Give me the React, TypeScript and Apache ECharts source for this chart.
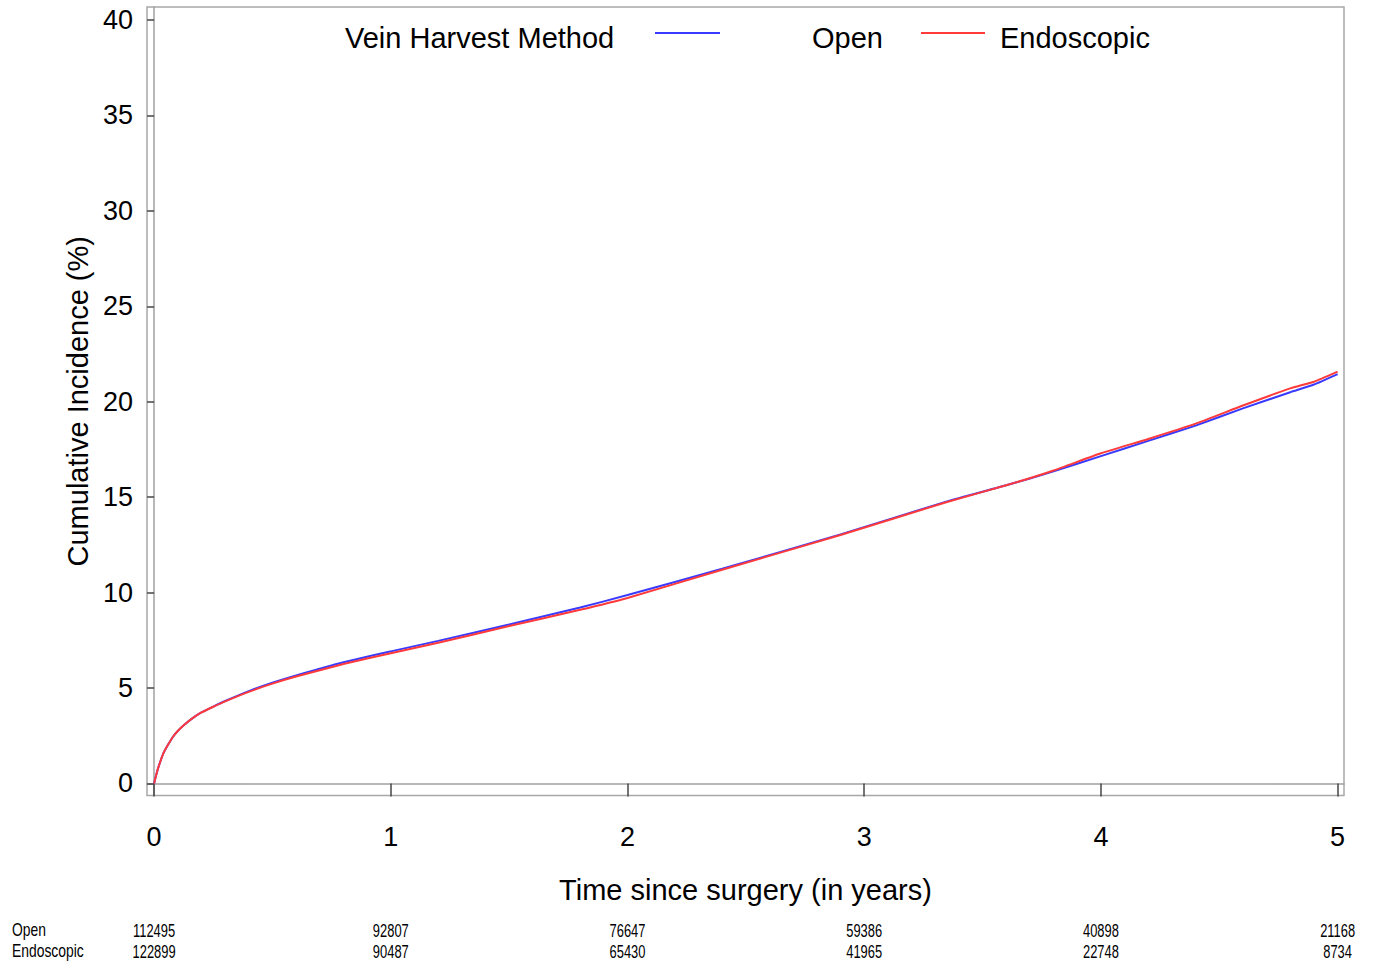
import React, { useEffect, useRef } from "react";
import * as echarts from "echarts";

const times = [0, 0.01, 0.02, 0.04, 0.06, 0.08, 0.1, 0.13, 0.16, 0.2, 0.25, 0.3, 0.4, 0.5, 0.6, 0.8, 1.0, 1.2, 1.5, 1.8, 2.0, 2.4, 2.9, 3.35, 3.6, 3.8, 4.0, 4.2, 4.4, 4.6, 4.8, 4.9, 5.0];
const openValues = [0, 0.5, 0.92, 1.6, 2.05, 2.45, 2.75, 3.1, 3.4, 3.72, 4.03, 4.32, 4.84, 5.28, 5.66, 6.35, 6.92, 7.47, 8.33, 9.22, 9.87, 11.25, 13.05, 14.78, 15.62, 16.35, 17.15, 17.95, 18.75, 19.65, 20.5, 20.9, 21.45];
const endoValues = [0, 0.5, 0.92, 1.6, 2.05, 2.45, 2.75, 3.1, 3.4, 3.72, 4.02, 4.3, 4.8, 5.23, 5.6, 6.26, 6.82, 7.37, 8.25, 9.1, 9.72, 11.2, 13.02, 14.75, 15.62, 16.4, 17.3, 18.05, 18.85, 19.8, 20.7, 21.05, 21.58];

const xTicks = [0, 1, 2, 3, 4, 5];
const yTicks = [0, 5, 10, 15, 20, 25, 30, 35, 40];
const openAtRisk = [112495, 92807, 76647, 59386, 40898, 21168];
const endoAtRisk = [122899, 90487, 65430, 41965, 22748, 8734];

const seriesNames = ["Open", "Endoscopic"];
const legendTitle = "Vein Harvest Method";
const xTitle = "Time since surgery (in years)";
const yTitle = "Cumulative Incidence (%)";

const FONT = "'Liberation Sans', Arial, sans-serif";
const BLUE = "#3a3aff";
const RED = "#ff3a3a";
const NARROW_SCALE = 0.68;

export default function App() {
  const ref = useRef<HTMLDivElement>(null);
  useEffect(() => {
    if (!ref.current) return;
    const chart = echarts.init(ref.current, undefined, { renderer: "svg" });
    const xMin = -0.03;
    const xMax = 5.027;
    chart.setOption({
      animation: false,
      backgroundColor: "#fff",
      grid: {
        left: 147,
        right: 29,
        top: 7,
        bottom: 169.5,
        show: true,
        borderColor: "#a8a8a8",
        borderWidth: 1.5,
      },
      xAxis: {
        type: "value",
        min: xMin,
        max: xMax,
        position: "bottom",
        name: xTitle,
        nameLocation: "middle",
        nameGap: 80,
        nameTextStyle: { fontFamily: FONT, fontSize: 29, color: "#000" },
        axisLine: { show: true, lineStyle: { color: "#a0a0a0", width: 1.5 } },
        axisTick: { show: true, customValues: xTicks, length: 13, lineStyle: { color: "#444", width: 1.5 } },
        axisLabel: { customValues: xTicks, margin: 28, fontFamily: FONT, fontSize: 27, color: "#000" },
        splitLine: { show: false },
      },
      yAxis: {
        type: "value",
        min: -0.63,
        max: 40.68,
        name: yTitle,
        nameLocation: "middle",
        nameGap: 52,
        nameRotate: 90,
        nameTextStyle: { fontFamily: FONT, fontSize: 29, color: "#000" },
        axisLine: { show: true, lineStyle: { color: "#a0a0a0", width: 1.5 } },
        axisTick: { show: true, customValues: yTicks, length: 7, lineStyle: { color: "#444", width: 1.5 } },
        axisLabel: { customValues: yTicks, margin: 14, fontFamily: FONT, fontSize: 27, color: "#000" },
        splitLine: { show: false },
      },
      series: [
        {
          name: seriesNames[0],
          type: "line",
          data: times.map((t, i) => [t, openValues[i]]),
          showSymbol: false,
          smooth: 0.15,
          lineStyle: { color: BLUE, width: 2 },
          itemStyle: { color: BLUE },
        },
        {
          name: seriesNames[1],
          type: "line",
          data: times.map((t, i) => [t, endoValues[i]]),
          showSymbol: false,
          smooth: 0.15,
          lineStyle: { color: RED, width: 2 },
          itemStyle: { color: RED },
        },
      ],
    });

    const riskRows = [
      { label: seriesNames[0], values: openAtRisk, y: 930 },
      { label: seriesNames[1], values: endoAtRisk, y: 951 },
    ];
    const riskGraphics: any[] = [];
    riskRows.forEach((row) => {
      riskGraphics.push({
        type: "text",
        x: 12,
        y: row.y,
        scaleX: NARROW_SCALE + 0.05,
        style: { text: row.label, font: `19px ${FONT}`, fill: "#000", textAlign: "left", textVerticalAlign: "middle" },
      });
      xTicks.forEach((t, i) => {
        const px = chart.convertToPixel({ xAxisIndex: 0 }, t) as number;
        riskGraphics.push({
          type: "text",
          x: px,
          y: row.y,
          scaleX: NARROW_SCALE,
          style: {
            text: String(row.values[i]),
            font: `19px ${FONT}`,
            fill: "#000",
            textAlign: "center",
            textVerticalAlign: "middle",
          },
        });
      });
    });

    chart.setOption({
      graphic: [
        {
          type: "text",
          x: 345,
          y: 38,
          style: { text: legendTitle, font: `29px ${FONT}`, fill: "#000", textVerticalAlign: "middle" },
        },
        {
          type: "line",
          shape: { x1: 655, y1: 33, x2: 720, y2: 33 },
          style: { stroke: BLUE, lineWidth: 2 },
        },
        {
          type: "text",
          x: 812,
          y: 38,
          style: { text: seriesNames[0], font: `29px ${FONT}`, fill: "#000", textVerticalAlign: "middle" },
        },
        {
          type: "line",
          shape: { x1: 921, y1: 33, x2: 985, y2: 33 },
          style: { stroke: RED, lineWidth: 2 },
        },
        {
          type: "text",
          x: 1000,
          y: 38,
          style: { text: seriesNames[1], font: `29px ${FONT}`, fill: "#000", textVerticalAlign: "middle" },
        },
        ...riskGraphics,
      ],
    });
    return () => chart.dispose();
  }, []);
  return (
    <div
      ref={ref}
      style={{ position: "fixed", left: 0, top: 0, width: 1373, height: 965, background: "#fff" }}
    />
  );
}
